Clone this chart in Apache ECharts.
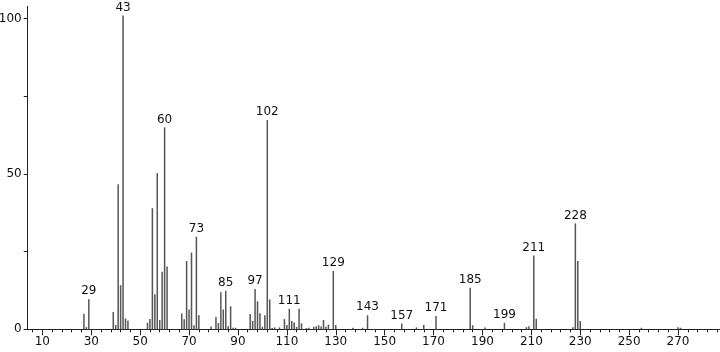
<!DOCTYPE html>
<html><head><meta charset="utf-8">
<script src="https://cdn.jsdelivr.net/npm/echarts@6/dist/echarts.min.js"></script>
<style>html,body{margin:0;padding:0;background:#fff}#c{width:720px;height:352px}</style>
</head><body><div id="c"></div>
<script>
// m/z values and relative intensities
const mz = [27,28,29,39,40,41,42,43,44,45,53,54,55,56,57,58,59,60,61,67,68,69,70,71,72,73,74,79,81,82,83,84,85,86,87,88,89,95,96,97,98,99,100,101,102,103,104,105,107,109,110,111,112,113,114,115,116,118,119,121,122,123,124,125,126,127,129,130,137,141,143,157,163,166,171,185,186,191,199,208,209,211,212,227,228,229,230,255,270,271];
const intensity = [5,0.7,9.7,5.6,1.4,46.7,14.2,101,3.5,2.8,2.1,3.3,39,11.3,50.3,3,18.5,65,20.2,5.1,3.2,22,6.4,24.7,1.3,29.8,4.5,0.9,4,2,11.9,6.4,12.4,1,7.4,0.5,0.5,4.9,2.7,13,9,5.2,0.8,4.5,67.4,9.6,0.4,0.6,0.6,3.3,1.4,6.6,2.7,2.2,0.8,6.6,1.9,0.4,0.5,0.8,1,1.3,0.9,3,0.8,1.5,18.8,1.4,0.5,0.5,4.5,1.9,0.6,1.4,4.3,13.4,1.3,0.6,2.1,0.7,1,23.8,3.4,0.7,34.1,22,2.7,0.5,0.7,0.5];
const labeledPeaks = [29,43,60,73,85,97,102,111,129,143,157,171,185,199,211,228];
const xLabelValues = [10,30,50,70,90,110,130,150,170,190,210,230,250,270];
const xMinorTicks = [];
for (let v = 6; v <= 286; v += 4) xMinorTicks.push(v);
const yTickValues = [0,25,50,75,100];
const yLabelValues = [0,50,100];

const data = mz.map((m, i) => {
  const item = { value: [m, intensity[i]] };
  if (labeledPeaks.indexOf(m) >= 0) item.label = { show: true };
  return item;
});

const FONT = 'DejaVu Sans';
const chart = echarts.init(document.getElementById('c'), null, { renderer: 'canvas' });
chart.setOption({
  animation: false,
  backgroundColor: '#ffffff',
  grid: { left: 27.7, top: 6.3, right: 0.4, bottom: 22.7, containLabel: false, outerBoundsMode: 'none' },
  xAxis: [
    {
      type: 'value', min: 4, max: 287, position: 'bottom',
      axisLine: { show: true, onZero: false, lineStyle: { color: '#222', width: 1 } },
      axisTick: { show: true, length: 6, customValues: xLabelValues, lineStyle: { color: '#222' } },
      axisLabel: { show: true, customValues: xLabelValues, margin: 7, color: '#111', fontFamily: FONT, fontSize: 12 },
      splitLine: { show: false }
    },
    {
      type: 'value', min: 4, max: 287, position: 'bottom',
      axisLine: { show: false },
      axisTick: { show: true, length: 3, customValues: xMinorTicks, lineStyle: { color: '#222' } },
      axisLabel: { show: false },
      splitLine: { show: false }
    }
  ],
  yAxis: {
    type: 'value', min: 0, max: 104,
    axisLine: { show: true, onZero: false, lineStyle: { color: '#222', width: 1 } },
    axisTick: { show: true, length: 4, customValues: yTickValues, lineStyle: { color: '#222' } },
    axisLabel: { show: true, customValues: yLabelValues, margin: 6, color: '#111', fontFamily: FONT, fontSize: 12 },
    splitLine: { show: false }
  },
  series: [{
    type: 'bar',
    xAxisIndex: 0,
    barWidth: 1.5,
    itemStyle: { color: '#555' },
    label: {
      show: false, position: 'top', distance: 2,
      color: '#111', fontFamily: FONT, fontSize: 12,
      formatter: p => String(p.value[0])
    },
    data: data
  }]
});
</script></body></html>
